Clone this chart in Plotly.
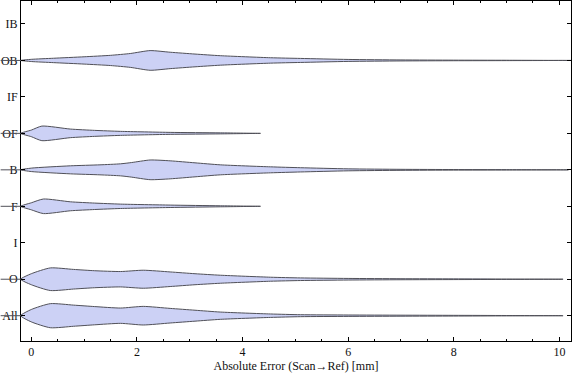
import plotly.graph_objects as go

# Category order (bottom to top)
categories = ["All", "O", "I", "F", "B", "OF", "IF", "OB", "IB"]

# Density profiles: absolute error [mm] and half width (category units)
err_all = [-0.2, 0.0, 0.36, 0.8, 1.2, 1.69, 2.12, 2.63, 3.1, 3.58, 4.53, 5.1, 6.0, 7.0, 8.0, 9.0, 10.07]
hw_all = [0, 0.17, 0.33, 0.29, 0.25, 0.21, 0.255, 0.20, 0.15, 0.10, 0.047, 0.027, 0.019, 0.014, 0.010, 0.005, 0]

err_o = [-0.2, 0.0, 0.36, 0.8, 1.2, 1.69, 2.12, 2.63, 3.1, 3.58, 4.53, 5.1, 6.0, 7.0, 8.0, 9.0, 10.07]
hw_o = [0, 0.151, 0.31, 0.269, 0.233, 0.211, 0.247, 0.20, 0.151, 0.11, 0.055, 0.036, 0.022, 0.014, 0.010, 0.005, 0]

err_f = [-0.2, 0.0, 0.23, 0.74, 1.2, 1.69, 2.63, 3.58, 4.34]
hw_f = [0, 0.096, 0.20, 0.123, 0.088, 0.06, 0.033, 0.014, 0]

err_b = [-0.2, 0.0, 0.74, 1.3, 1.69, 1.9, 2.25, 2.63, 3.1, 3.58, 4.53, 5.1, 6.0, 7.0, 8.0, 9.0, 10.17]
hw_b = [0, 0.047, 0.11, 0.137, 0.165, 0.20, 0.27, 0.247, 0.192, 0.137, 0.082, 0.058, 0.027, 0.014, 0.008, 0.005, 0]

err_of = [-0.2, 0.0, 0.2, 0.74, 1.2, 1.69, 2.63, 3.58, 4.34]
hw_of = [0, 0.09, 0.20, 0.118, 0.082, 0.055, 0.027, 0.014, 0]

err_ob = [-0.2, 0.0, 0.42, 1.0, 1.5, 1.875, 2.25, 2.63, 3.1, 3.58, 4.53, 5.1, 6.0, 7.0, 8.0, 9.0, 10.22]
hw_ob = [0, 0.03, 0.06, 0.10, 0.14, 0.19, 0.27, 0.225, 0.175, 0.13, 0.074, 0.055, 0.027, 0.014, 0.008, 0.005, 0]

profiles = {
    "All": (err_all, hw_all),
    "O": (err_o, hw_o),
    "F": (err_f, hw_f),
    "B": (err_b, hw_b),
    "OF": (err_of, hw_of),
    "OB": (err_ob, hw_ob),
}

x_tick_vals = [0, 2, 4, 6, 8, 10]
x_title = "Absolute Error (Scan\u2192Ref) [mm]"

FILL = "rgb(204,209,245)"
EDGE = "rgb(80,80,88)"
FONT = "Liberation Serif"

fig = go.Figure()
pos = {c: i + 1 for i, c in enumerate(categories)}
for cat, (ex, hw) in profiles.items():
    p = pos[cat]
    xs = list(ex) + list(ex)[::-1]
    ys = [p + h for h in hw] + [p - h for h in hw][::-1]
    fig.add_trace(go.Scatter(
        x=xs, y=ys, mode="lines", fill="toself", fillcolor=FILL,
        line=dict(color=EDGE, width=1, shape="spline", smoothing=0.6),
        hoverinfo="skip", showlegend=False,
    ))
    fig.add_shape(type="line", xref="paper", yref="y", x0=-0.037, x1=0,
                  y0=p, y1=p, line=dict(color=EDGE, width=1))

axis_common = dict(
    showline=True, linecolor="black", linewidth=1, mirror="ticks",
    ticks="inside", ticklen=4, tickcolor="black", showgrid=False, zeroline=False,
    automargin=False,
    tickfont=dict(family=FONT, size=12, color="#111"),
)

fig.update_xaxes(range=[-0.195, 10.22], tickvals=x_tick_vals,
                 minor=dict(dtick=0.5, ticks="inside", ticklen=2, tickcolor="black"),
                 title=dict(text=x_title, font=dict(family=FONT, size=12, color="#111"), standoff=2),
                 **axis_common)
fig.update_yaxes(range=[0.306, 9.63], tickvals=[pos[c] for c in categories],
                 ticktext=categories, **axis_common)

fig.update_layout(
    width=576, height=381,
    margin=dict(l=21, r=5, t=1, b=40),
    plot_bgcolor="white", paper_bgcolor="white",
    font=dict(family=FONT, size=12, color="#111"),
)

fig.write_html("out.html", config={"displayModeBar": False},
               post_script="document.body.style.margin='0';")
